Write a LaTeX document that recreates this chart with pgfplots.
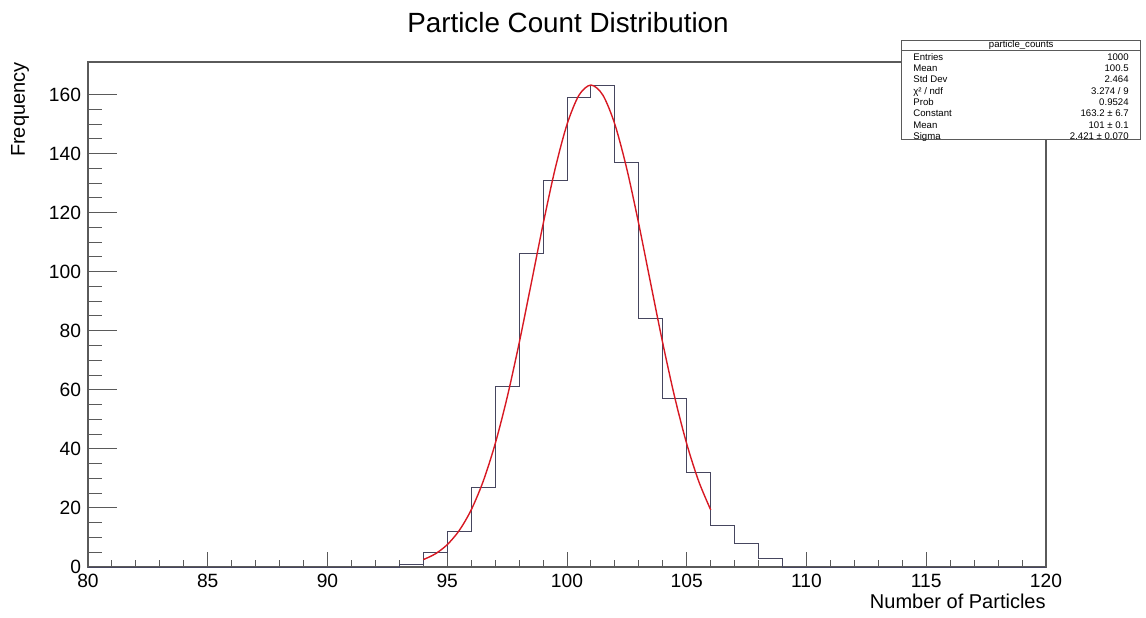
\documentclass[border=0pt]{standalone}
\usepackage{fontspec}
\setmainfont{Liberation Sans}
\usepackage{pgfplots}
\pgfplotsset{compat=1.18}

\definecolor{histline}{RGB}{70,70,95}
\definecolor{fitred}{RGB}{215,25,35}
\definecolor{frame}{RGB}{90,90,90}

\begin{document}
\begin{tikzpicture}
\path[use as bounding box] (0,0) rectangle (573pt,308.5pt);
\begin{axis}[
    at={(44pt,25pt)}, anchor=south west,
    scale only axis,
    width=479pt, height=252.5pt,
    xmin=80, xmax=120,
    ymin=0, ymax=171,
    xtick={80,85,...,120},
    ytick={0,20,...,160},
    minor x tick num=4,
    minor y tick num=3,
    tick pos=left,
    tick align=inside,
    axis line style={frame, line width=0.6pt},
    tick style={frame, line width=0.5pt},
    major tick length=7.5pt,
    minor tick length=3.5pt,
    ytick style={/pgfplots/major tick length=14.5pt, /pgfplots/minor tick length=7pt},
    ticklabel style={font=\fontsize{9.6}{11}\selectfont},
    /pgf/number format/assume math mode=true,
    /pgf/number format/1000 sep={},
]
    % histogram (bin contents, width 1)
    \addplot[histline, line width=0.5pt, const plot mark left] coordinates {
        (80,0) (93,1) (94,5) (95,12) (96,27) (97,61) (98,106) (99,131)
        (100,159) (101,163) (102,137) (103,84) (104,57) (105,32)
        (106,14) (107,8) (108,3) (109,0) (120,0)
    };

    % gaussian fit: Constant 163.2, Mean 101, Sigma 2.421
    \addplot[fitred, line width=0.7pt, smooth] coordinates {
        (94,2.50) (94.5,4.44) (95,7.57) (95.5,12.36) (96,19.34)
        (96.5,29.01) (97,41.69) (97.5,57.40) (98,75.74) (98.5,95.76)
        (99,116.02) (99.5,134.70) (100,149.86) (100.5,159.76) (101,163.2)
        (101.5,159.76) (102,149.86) (102.5,134.70) (103,116.02) (103.5,95.76)
        (104,75.74) (104.5,57.40) (105,41.69) (105.5,29.01) (106,19.34)
    };
\end{axis}

% title and axis titles
\node[font=\fontsize{13.9}{16}\selectfont, anchor=base, inner sep=0pt] at (284pt,292pt) {Particle Count Distribution};
\node[font=\fontsize{10}{12}\selectfont, anchor=base east, inner sep=0pt] at (523pt,4.5pt) {Number of Particles};
\node[font=\fontsize{10}{12}\selectfont, rotate=90, anchor=east, inner sep=0pt] at (10pt,277.5pt) {Frequency};

% statistics box
\begin{scope}[font=\fontsize{4.8}{5.6}\selectfont]
\draw[frame, line width=0.5pt, fill=white] (450.85pt,238.5pt) rectangle (570.35pt,288.15pt);
\draw[frame, line width=0.4pt] (450.85pt,283.5pt) -- (570.35pt,283.5pt);
\node[anchor=center, inner sep=0pt] at (510.6pt,285.8pt) {particle\_counts};
\foreach \lab/\val [count=\i from 0] in {
    Entries/1000, Mean/100.5, Std Dev/2.464, {χ² / ndf}/{3.274 / 9},
    Prob/0.9524, Constant/163.2 ± 6.7, Mean/101 ± 0.1, Sigma/2.421 ± 0.070} {
  \node[anchor=base west, inner sep=0pt] at (456.5pt,278.4pt-\i*5.665pt) {\lab};
  \node[anchor=base east, inner sep=0pt] at (564.5pt,278.4pt-\i*5.665pt) {\val};
}
\end{scope}
\end{tikzpicture}
\end{document}
